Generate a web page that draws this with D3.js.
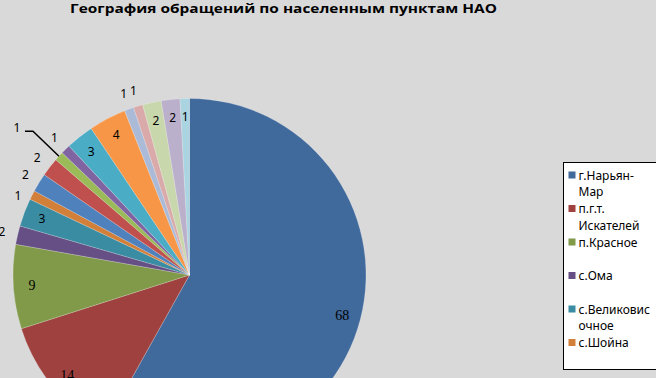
<!DOCTYPE html>
<html>
<head>
<meta charset="utf-8">
<script src="https://cdn.jsdelivr.net/npm/d3@7"></script>
<style>
  html, body { margin: 0; padding: 0; background: #d9d9d9; }
  svg { display: block; }
</style>
</head>
<body>
<svg id="chart" width="656" height="378"></svg>
<script>
// Pie of requests by settlement (NAO). Legend is clipped by the frame, as in the source.
const TITLE = "География обращений по населенным пунктам НАО";

const values = [68, 14, 9, 2, 3, 1, 2, 2, 1, 1, 3, 4, 1, 1, 2, 2, 1];
const legendNames = [
  ["г.Нарьян-", "Мар"],
  ["п.г.т.", "Искателей"],
  ["п.Красное"],
  ["с.Ома"],
  ["с.Великовис", "очное"],
  ["с.Шойна"],
];
const colors = [
  "#40699c", "#9e413f", "#809a49", "#664f85", "#3a8ca3", "#d27f3a",
  "#4f81bd", "#c0504d", "#9bbb59", "#8064a2", "#4bacc6", "#f79646",
  "#aabad7", "#d9aaa9", "#c9d7ad", "#bbb0cc", "#a9d4e0",
];

const W = 656, H = 378;
const cx = 189.5, cy = 275, R = 176.5;

const svg = d3.select("#chart");

svg.append("text")
  .attr("x", 70)
  .attr("y", 13)
  .attr("textLength", 427)
  .attr("lengthAdjust", "spacingAndGlyphs")
  .style("font-family", "'Open Sans', 'DejaVu Sans', sans-serif")
  .style("font-weight", "bold")
  .style("font-size", "13px")
  .attr("fill", "#000")
  .text(TITLE);

const pie = d3.pie().sort(null).value((d) => d);
const arcs = pie(values);
const arc = d3.arc().innerRadius(0).outerRadius(R);

const g = svg.append("g").attr("transform", `translate(${cx},${cy})`);

g.selectAll("path.slice")
  .data(arcs)
  .join("path")
  .attr("class", "slice")
  .attr("d", arc)
  .attr("fill", (d, i) => colors[i])
  .attr("stroke", "#ffffff")
  .attr("stroke-opacity", 0.35)
  .attr("stroke-width", 0.6);

// label placement: inside ring, outside ring, or with a leader line
const outside = new Set([3, 5, 6, 7, 9, 12, 13]);
const leader = 8;
const serifBig = new Set([0, 1, 2]);

const inArc = d3.arc().innerRadius(R * 0.895).outerRadius(R * 0.895);
const outArc = d3.arc().innerRadius(R + 16).outerRadius(R + 16);
const edgeArc = d3.arc().innerRadius(R).outerRadius(R);

arcs.forEach((d, i) => {
  let pos;
  if (i === leader) {
    const p = edgeArc.centroid(d);
    const elbow = [p[0] - 26, p[1] - 25];
    const end = [elbow[0] - 8, elbow[1]];
    g.append("polyline")
      .attr("points", [p, elbow, end].map((q) => q.join(",")).join(" "))
      .attr("fill", "none")
      .attr("stroke", "#000")
      .attr("stroke-width", 1.5);
    pos = [end[0] - 8, end[1] - 3];
  } else if (outside.has(i)) {
    pos = outArc.centroid(d);
    if (i === 5) pos[1] += 8; // pushed down to clear its neighbour, as in the source
  } else {
    pos = inArc.centroid(d);
  }
  const t = g.append("text")
    .attr("x", pos[0])
    .attr("y", pos[1])
    .attr("dy", "0.35em")
    .attr("text-anchor", "middle")
    .attr("fill", "#000")
    .text(d.data);
  if (serifBig.has(i)) {
    t.attr("font-family", "Liberation Serif, Times New Roman, DejaVu Serif, serif")
      .attr("font-size", "14px");
  } else {
    t.attr("font-family", "Noto Sans, DejaVu Sans, sans-serif")
      .attr("font-size", "12px");
  }
});

// legend
const lg = svg.append("g").attr("transform", "translate(563.5,162.5)");
lg.append("rect")
  .attr("width", 110)
  .attr("height", 207)
  .attr("fill", "#ffffff")
  .attr("stroke", "#000")
  .attr("stroke-width", 1);

const rowH = 33.5, lineH = 16.7;
legendNames.forEach((lines, i) => {
  const y0 = 13 + i * rowH;
  lg.append("rect")
    .attr("x", 5)
    .attr("y", y0 - 4)
    .attr("width", 7)
    .attr("height", 7)
    .attr("fill", colors[i]);
  lines.forEach((t, j) => {
    lg.append("text")
      .attr("x", 15)
      .attr("y", y0 + j * lineH)
      .attr("dy", "0.35em")
      .style("font-family", "'Noto Sans', 'DejaVu Sans', sans-serif")
      .style("font-size", "12px")
      .attr("fill", "#000")
      .text(t);
  });
});
</script>
</body>
</html>
